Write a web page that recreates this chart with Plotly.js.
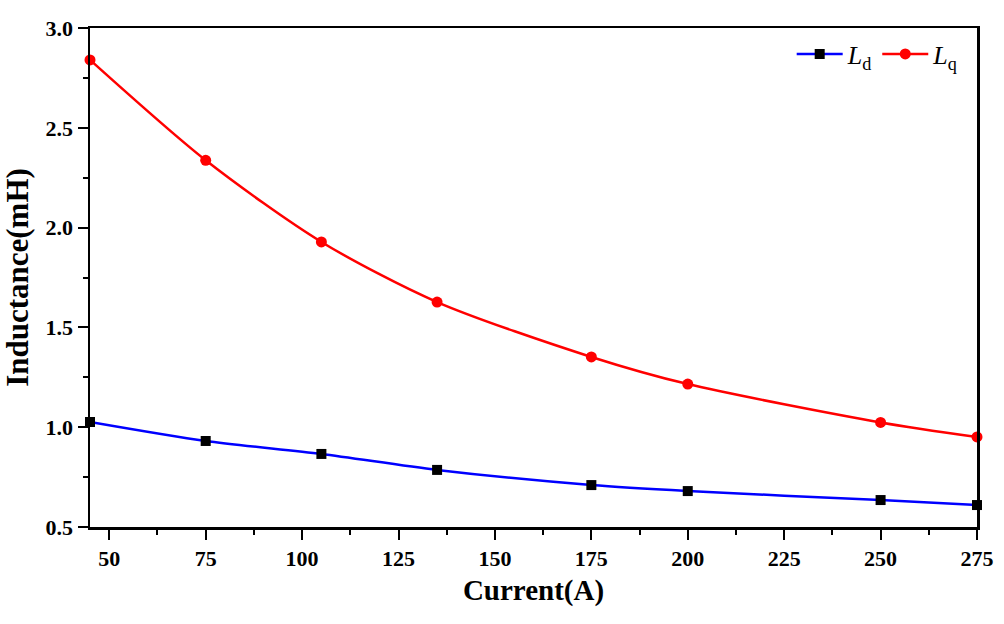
<!DOCTYPE html>
<html>
<head>
<meta charset="utf-8">
<script src="https://cdn.plot.ly/plotly-3.0.1.min.js"></script>
<style>
  html, body { margin: 0; padding: 0; background: #fff; }
  #chart { width: 1004px; height: 624px; }
</style>
</head>
<body>
<div id="chart"></div>
<script>
// current (A)
var current = [45, 75, 105, 135, 175, 200, 250, 275];
// inductances (mH)
var Ld = [1.026, 0.931, 0.866, 0.786, 0.710, 0.680, 0.635, 0.610];
var Lq = [2.840, 2.337, 1.928, 1.627, 1.352, 1.216, 1.024, 0.951];

var xTicks = [50, 75, 100, 125, 150, 175, 200, 225, 250, 275];
var xTickText = ["50", "75", "100", "125", "150", "175", "200", "225", "250", "275"];
var yTicks = [0.5, 1.0, 1.5, 2.0, 2.5, 3.0];
var yTickText = ["0.5", "1.0", "1.5", "2.0", "2.5", "3.0"];

var serif = "Liberation Serif, Times New Roman, serif";
var tickFont = { family: serif, size: 22, color: "#000", weight: "bold" };

function bold(list) { return list.map(function (t) { return "<b>" + t + "</b>"; }); }

var traceLd = {
  x: current, y: Ld, name: "<i>L</i><sub>d</sub>",
  mode: "lines+markers", type: "scatter",
  line: { color: "#0000ff", width: 2.5, shape: "spline", smoothing: 0.8 },
  marker: { symbol: "square", size: 10, color: "#000" },
  cliponaxis: false
};
var traceLq = {
  x: current, y: Lq, name: "<i>L</i><sub>q</sub>",
  mode: "lines+markers", type: "scatter",
  line: { color: "#ff0000", width: 2.5, shape: "spline", smoothing: 0.8 },
  marker: { symbol: "circle", size: 11, color: "#ff0000" },
  cliponaxis: false
};

var layout = {
  width: 1004, height: 624,
  margin: { l: 90, r: 27, t: 28, b: 97, pad: 0 },
  paper_bgcolor: "#fff", plot_bgcolor: "#fff",
  showlegend: true,
  legend: {
    orientation: "h", x: 0.985, xanchor: "right", y: 0.995, yanchor: "top",
    bgcolor: "rgba(0,0,0,0)",
    font: { family: serif, size: 26, color: "#000" },
    itemwidth: 46, tracegroupgap: 0
  },
  xaxis: {
    range: [45, 275],
    tickvals: xTicks, ticktext: bold(xTickText),
    ticks: "outside", ticklen: 10, tickwidth: 2, tickcolor: "#000",
    minor: { dtick: 12.5, tick0: 50, ticks: "outside", ticklen: 5, tickwidth: 2, tickcolor: "#000" },
    showline: true, linecolor: "#000", linewidth: 2.5, mirror: true,
    showgrid: false, zeroline: false,
    tickfont: tickFont,
    title: { text: "<b>Current(A)</b>", font: { family: serif, size: 29, color: "#000" }, standoff: 10 }
  },
  yaxis: {
    range: [0.5, 3.0],
    tickvals: yTicks, ticktext: bold(yTickText),
    ticks: "outside", ticklen: 10, tickwidth: 2, tickcolor: "#000",
    minor: { dtick: 0.25, tick0: 0.5, ticks: "outside", ticklen: 5, tickwidth: 2, tickcolor: "#000" },
    showline: true, linecolor: "#000", linewidth: 2.5, mirror: true,
    showgrid: false, zeroline: false,
    tickfont: tickFont,
    title: { text: "<b>Inductance(mH)</b>", font: { family: serif, size: 31, color: "#000" }, standoff: 10 }
  }
};

Plotly.newPlot("chart", [traceLd, traceLq], layout, { displayModeBar: false, staticPlot: true });
</script>
</body>
</html>
